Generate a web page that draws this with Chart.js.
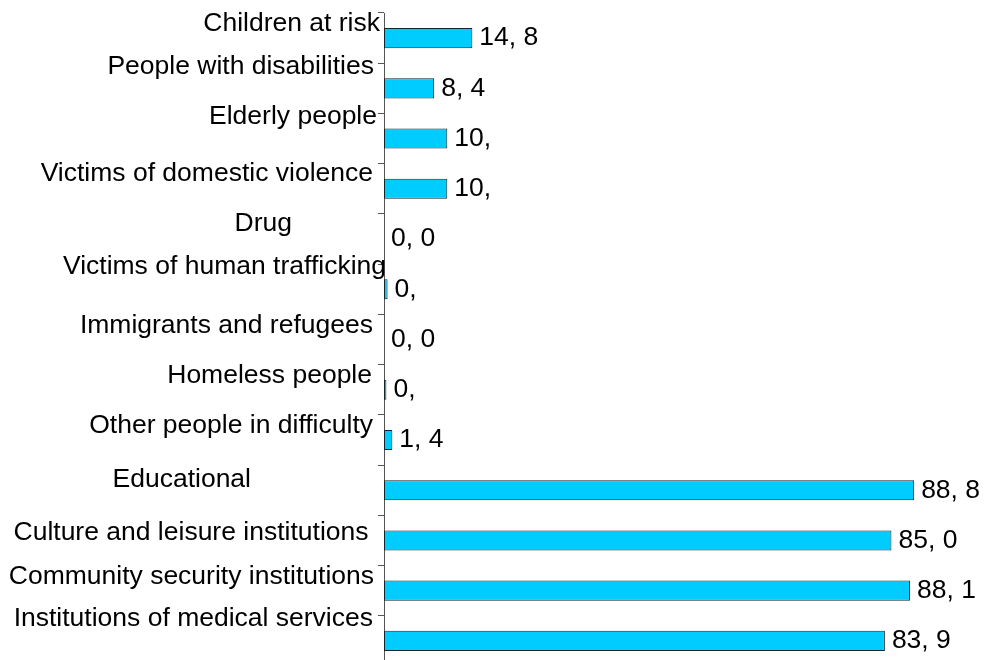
<!DOCTYPE html>
<html>
<head>
<meta charset="utf-8">
<script src="https://cdn.jsdelivr.net/npm/chart.js@4/dist/chart.umd.min.js"></script>
<style>
  html, body { margin: 0; padding: 0; background: #ffffff; overflow: hidden; }
  #wrap { width: 992px; height: 666px; position: relative; }
</style>
</head>
<body>
<div id="wrap"><canvas id="c"></canvas></div>
<script>
// ---- data ----
const categories = [
  "Children at risk",
  "People with disabilities",
  "Elderly people",
  "Victims of domestic violence",
  "Drug",
  "Victims of human trafficking",
  "Immigrants and refugees",
  "Homeless people",
  "Other people in difficulty",
  "Educational",
  "Culture and leisure institutions",
  "Community security institutions",
  "Institutions of medical services"
];
const values = [14.8, 8.4, 10.6, 10.6, 0.0, 0.6, 0.0, 0.4, 1.4, 88.8, 85.0, 88.1, 83.9];
const valueLabels = ["14, 8", "8, 4", "10,", "10,", "0, 0", "0,", "0, 0", "0,", "1, 4", "88, 8", "85, 0", "88, 1", "83, 9"];

// ---- styling (label placement tweaks, in px) ----
const FONT = '"Liberation Sans", Arial, Helvetica, sans-serif';
const FONT_SIZE = 26.5;
const labelShiftX = [6, 0, 3, -1, -82, 12, -1, -2, -1, -123, -5.5, 0, -1];
const labelShiftY = [-14.5, -22, -21.8, -15, -15.6, -22.6, -13.8, -14.5, -14.2, -10.4, -7.6, -13.6, -22.2];

const categoryLabelPlugin = {
  id: 'categoryLabels',
  afterDraw(chart) {
    const ctx = chart.ctx;
    const y = chart.scales.y;
    const baseX = y.right - 6 - 4;
    ctx.save();
    ctx.font = FONT_SIZE + 'px ' + FONT;
    ctx.fillStyle = '#000000';
    ctx.textAlign = 'right';
    ctx.textBaseline = 'middle';
    categories.forEach((name, i) => {
      ctx.fillText(name, baseX + labelShiftX[i], y.getPixelForValue(i) + labelShiftY[i]);
    });
    ctx.restore();
  }
};

const valueLabelPlugin = {
  id: 'valueLabels',
  afterDatasetsDraw(chart) {
    const ctx = chart.ctx;
    const meta = chart.getDatasetMeta(0);
    ctx.save();
    ctx.font = FONT_SIZE + 'px ' + FONT;
    ctx.fillStyle = '#000000';
    ctx.textAlign = 'left';
    ctx.textBaseline = 'middle';
    meta.data.forEach((el, i) => {
      ctx.fillText(valueLabels[i], el.x + 7, el.y);
    });
    ctx.restore();
  }
};

new Chart(document.getElementById('c'), {
  type: 'bar',
  data: {
    labels: categories,
    datasets: [{
      data: values,
      backgroundColor: '#00ccff',
      borderColor: '#10252c',
      borderWidth: 1,
      borderSkipped: false,
      barPercentage: 0.8,
      categoryPercentage: 0.5
    }]
  },
  options: {
    indexAxis: 'y',
    responsive: true,
    maintainAspectRatio: false,
    animation: false,
    layout: { padding: { top: 13, right: 11, bottom: 0, left: 0 } },
    plugins: { legend: { display: false }, tooltip: { enabled: false } },
    scales: {
      x: { display: false, min: 0, max: 100 },
      y: {
        afterFit(scale) {
          scale.width = 384;
          scale.paddingTop = 0;
          scale.paddingBottom = 0;
        },
        border: { display: true, color: '#555555', width: 1 },
        grid: { display: true, drawOnChartArea: false, drawTicks: true, tickLength: 6, color: '#555555', offset: true },
        ticks: { display: false, autoSkip: false }
      }
    }
  },
  plugins: [valueLabelPlugin, categoryLabelPlugin]
});
</script>
</body>
</html>
